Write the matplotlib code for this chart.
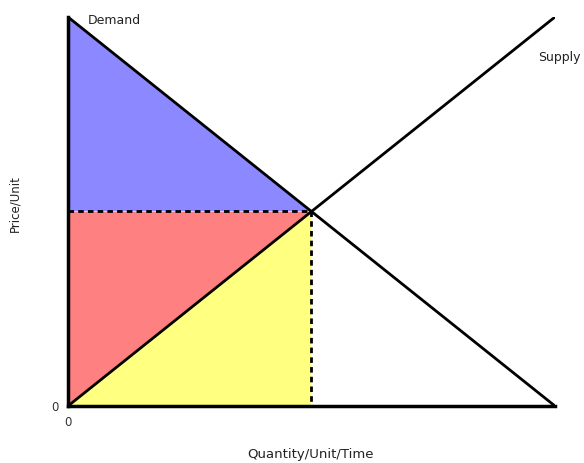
import matplotlib
matplotlib.use("Agg")
import matplotlib.pyplot as plt

# Data (arbitrary units, both axes 0..10)
demand_x = [0, 10]
demand_y = [10, 0]
supply_x = [0, 10]
supply_y = [0, 10]
eq_q = 5
eq_p = 5
p_max = 10

BLUE = '#8c88ff'
RED = '#ff8080'
YELLOW = '#ffff80'

fig = plt.figure(figsize=(5.84, 4.63), dpi=100)
ax = fig.add_axes([0.1164, 0.1231, 0.8339, 0.8402])

# Consumer surplus, producer surplus, cost regions
ax.fill([0, 0, eq_q], [p_max, eq_p, eq_p], color=BLUE, lw=0)
ax.fill([0, eq_q, 0], [eq_p, eq_p, 0], color=RED, lw=0)
ax.fill([0, eq_q, eq_q], [0, eq_p, 0], color=YELLOW, lw=0)

ax.plot(demand_x, demand_y, color='black', lw=2, solid_capstyle='butt')
ax.plot(supply_x, supply_y, color='black', lw=2, solid_capstyle='butt')
ax.plot([0, eq_q], [eq_p, eq_p], color='black', lw=2, ls=(0, (2, 1.5)))
ax.plot([eq_q, eq_q], [eq_p, 0], color='black', lw=2, ls=(0, (2, 1.5)))

ax.text(0.4, 9.9, 'Demand', fontsize=9, color='#222222', va='center', ha='left')
ax.text(9.65, 8.95, 'Supply', fontsize=9, color='#222222', va='center', ha='left', clip_on=False)

ax.set_xlim(0, 10)
ax.set_ylim(0, 10)
for s in ['top', 'right']:
    ax.spines[s].set_visible(False)
for s in ['left', 'bottom']:
    ax.spines[s].set_linewidth(2.5)
ax.set_xticks([0])
ax.set_yticks([0])
ax.tick_params(length=0, labelsize=8.5, pad=7, labelcolor='#333333')

fig.text(0.531, 0.018, 'Quantity/Unit/Time', fontsize=9.5, color='#222222', ha='center', va='center')
fig.text(0.026, 0.56, 'Price/Unit', fontsize=8.5, color='#222222', rotation=90, ha='center', va='center')

fig.savefig('out.png', dpi=100)
